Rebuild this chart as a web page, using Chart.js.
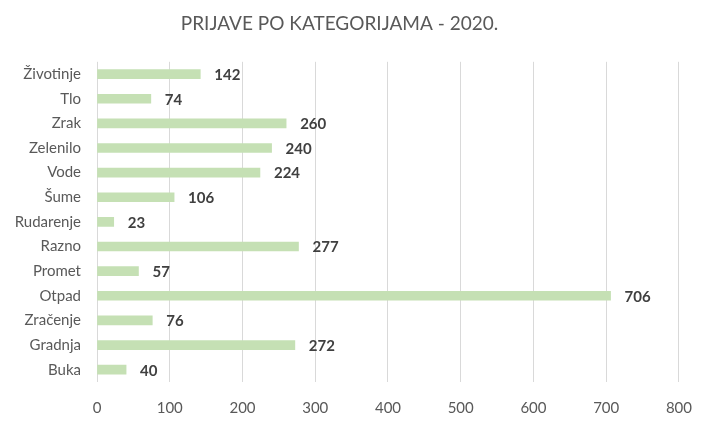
<!DOCTYPE html>
<html>
<head>
<meta charset="utf-8">
<script src="https://cdn.jsdelivr.net/npm/chart.js@4.4.1/dist/chart.umd.min.js"></script>
<style>
  html, body { margin: 0; padding: 0; background: #fff; }
  #wrap { width: 709px; height: 423px; }
</style>
</head>
<body>
<div id="wrap"><canvas id="prijave" width="709" height="423"></canvas></div>
<script>
const categories = ['Životinje', 'Tlo', 'Zrak', 'Zelenilo', 'Vode', 'Šume', 'Rudarenje', 'Razno', 'Promet', 'Otpad', 'Zračenje', 'Gradnja', 'Buka'];
const counts = [142, 74, 260, 240, 224, 106, 23, 277, 57, 706, 76, 272, 40];
const xTicks = [0, 100, 200, 300, 400, 500, 600, 700, 800];
const chartTitle = 'PRIJAVE PO KATEGORIJAMA - 2020.';

const fontName = 'Lato, "Open Sans", sans-serif';

// draws the value next to each bar, like the Excel data labels
const valueLabels = {
  id: 'valueLabels',
  afterDatasetsDraw(chart) {
    const ctx = chart.ctx;
    const meta = chart.getDatasetMeta(0);
    ctx.save();
    ctx.font = 'bold 15px ' + fontName;
    ctx.fillStyle = '#404040';
    ctx.textBaseline = 'middle';
    ctx.textAlign = 'left';
    meta.data.forEach((bar, i) => {
      ctx.fillText(String(counts[i]), bar.x + 14, bar.y + 1);
    });
    ctx.restore();
  }
};

new Chart('prijave', {
  type: 'bar',
  data: {
    labels: categories,
    datasets: [{
      data: counts,
      backgroundColor: '#c5e0b4',
      borderWidth: 0,
      barThickness: 9
    }]
  },
  plugins: [valueLabels],
  options: {
    indexAxis: 'y',
    responsive: false,
    animation: false,
    layout: { padding: { left: 0, right: 30, top: 0, bottom: 0 } },
    plugins: {
      legend: { display: false },
      tooltip: { enabled: false },
      title: {
        display: true,
        text: chartTitle,
        color: '#595959',
        font: { family: fontName, size: 19, weight: 'normal' },
        padding: { top: 12, bottom: 27 }
      }
    },
    scales: {
      x: {
        min: 0,
        max: 800,
        afterBuildTicks(scale) {
          scale.ticks = xTicks.map(v => ({ value: v }));
        },
        afterFit(scale) { scale.height = 41; },
        grid: { color: '#d9d9d9', lineWidth: 1, drawTicks: false },
        border: { display: false },
        ticks: {
          color: '#595959',
          font: { family: fontName, size: 15 },
          padding: 17
        }
      },
      y: {
        afterFit(scale) { scale.width = 97; },
        grid: { display: false, drawTicks: false },
        border: { display: false },
        ticks: {
          color: '#595959',
          font: { family: fontName, size: 15 },
          padding: 16
        }
      }
    }
  }
});
</script>
</body>
</html>
